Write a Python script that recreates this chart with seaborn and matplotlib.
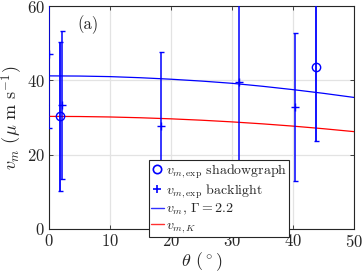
import seaborn as sns
import pandas as pd
import numpy as np
import matplotlib
import matplotlib.pyplot as plt
from matplotlib.lines import Line2D

# measured points (theta in degrees, v_m in um/s)
shadow_theta = [1.8, 43.8]
shadow_v = [30.3, 43.7]
shadow_err = [20, 20]

back_theta = [0.0, 2.1, 18.4, 31.1, 40.4]
back_v = [47.1, 33.4, 27.7, 39.5, 32.8]
back_err = [20, 20, 20, 25, 20]

# model curves
curve_theta = [0, 5, 10, 15, 20, 25, 30, 35, 40, 45, 50]
vm_gamma = [41.2, 41.15, 41.0, 40.7, 40.3, 39.8, 39.2, 38.4, 37.5, 36.5, 35.4]
vm_k = [30.3, 30.26, 30.14, 29.93, 29.64, 29.27, 28.82, 28.29, 27.68, 26.98, 26.2]

sns.set_theme(style='whitegrid')
plt.rcParams['font.family'] = ['cmr10', 'DejaVu Serif']
plt.rcParams['mathtext.fontset'] = 'cm'
plt.rcParams['axes.formatter.use_mathtext'] = True

fig, ax = plt.subplots(figsize=(3.64, 2.78), dpi=100)
fig.subplots_adjust(left=0.1346, right=0.9725, bottom=0.1763, top=0.9784)

curves = pd.DataFrame({'theta': curve_theta, 'gamma': vm_gamma, 'k': vm_k})
sns.lineplot(data=curves, x='theta', y='gamma', color='blue', linewidth=0.9, ax=ax, zorder=3)
sns.lineplot(data=curves, x='theta', y='k', color='red', linewidth=0.9, ax=ax, zorder=3)

ax.errorbar(back_theta, back_v, yerr=back_err, fmt='+', color='blue', ms=5.5, mew=1.0,
            elinewidth=1.1, capsize=1.8, capthick=1.0, zorder=4)
ax.errorbar(shadow_theta, shadow_v, yerr=shadow_err, fmt='o', color='blue', mfc='none', ms=6,
            mew=1.0, elinewidth=1.3, capsize=1.8, capthick=1.0, zorder=4)

ax.set_xlim(0, 50)
ax.set_ylim(0, 60)
ax.set_xticks([0, 10, 20, 30, 40, 50])
ax.set_yticks([0, 20, 40, 60])
ax.grid(True, color='#e3e3e3', linewidth=0.9)
for s in ax.spines.values():
    s.set_color('#262626')
    s.set_linewidth(0.8)
ax.tick_params(direction='in', length=3, width=0.6, top=True, right=True,
               bottom=True, left=True, labelsize=12, colors='#262626', pad=3)
ax.set_xlabel(r'$\theta$ ($^\circ$)', fontsize=13, labelpad=0)
ax.set_ylabel(r'$v_m$ ($\mu$ m s$^{-1}$)', fontsize=13, labelpad=1)
ax.text(6.4, 54.9, '(a)', fontsize=12, ha='center', va='center')

handles = [
    Line2D([], [], marker='o', ls='none', color='blue', mfc='none', ms=6, mew=1.2),
    Line2D([], [], marker='+', ls='none', color='blue', ms=6, mew=1.2),
    Line2D([], [], color='#3030ff', lw=1.0),
    Line2D([], [], color='#ff3030', lw=1.0),
]
labels = [r'$v_{m,\mathrm{exp}}$ shadowgraph', r'$v_{m,\mathrm{exp}}$ backlight',
          r'$v_m$, $\Gamma = 2.2$', r'$v_{m,K}$']
leg = ax.legend(handles, labels, loc='lower left', bbox_to_anchor=(0.328, -0.036),
                borderaxespad=0, fontsize=10, frameon=True, fancybox=False,
                handlelength=0.9, handletextpad=0.15, labelspacing=0.12,
                borderpad=0.15, framealpha=1)
leg.get_frame().set_edgecolor('#262626')
leg.get_frame().set_linewidth(0.8)
leg.set_zorder(10)

plt.savefig('out.png', dpi=100)
